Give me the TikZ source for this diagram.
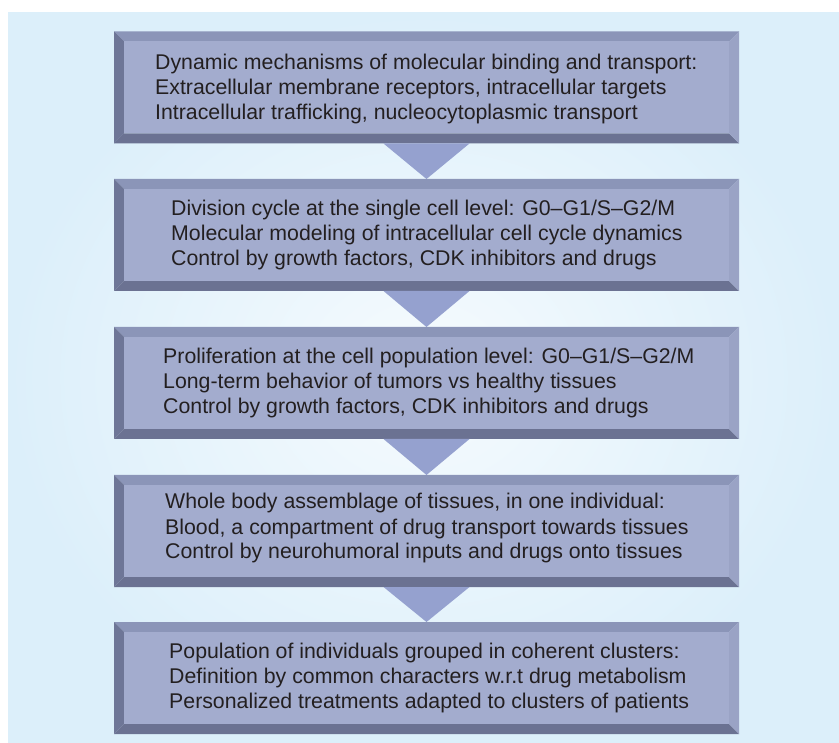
\documentclass[tikz,border=0pt]{standalone}
\usepackage{fontspec}
\setmainfont{Liberation Sans}
\usetikzlibrary{calc}

\definecolor{panelouter}{HTML}{DCEFFA}
\definecolor{panelinner}{HTML}{F6FBFE}
\definecolor{stageface}{HTML}{A3ACCE}
\definecolor{beveltop}{HTML}{8B95B8}
\definecolor{bevelleft}{HTML}{6E7697}
\definecolor{bevelbottom}{HTML}{6B7292}
\definecolor{bevelright}{HTML}{9AA3C5}
\definecolor{pointerblue}{HTML}{95A1CF}
\definecolor{inkgray}{HTML}{231F20}

% three left-aligned lines whose baseline is the first line's baseline
\newcommand\threelines[3]{\vtop{\hbox{#1}\hbox{#2}\hbox{#3}}}

% raised frame around a stage node: four mitred bevel strips and a flat face
\newcommand\bevelframe[1]{%
  \fill[beveltop] (#1.north west) -- (#1.north east) -- ($(#1.north east)+(-10,10)$) -- ($(#1.north west)+(10,10)$) -- cycle;
  \fill[bevelleft] (#1.north west) -- ($(#1.north west)+(10,10)$) -- ($(#1.south west)+(10,-10)$) -- (#1.south west) -- cycle;
  \fill[bevelbottom] (#1.south west) -- ($(#1.south west)+(10,-10)$) -- ($(#1.south east)+(-10,-10)$) -- (#1.south east) -- cycle;
  \fill[bevelright] (#1.north east) -- (#1.south east) -- ($(#1.south east)+(-10,-10)$) -- ($(#1.north east)+(-10,10)$) -- cycle;
  \fill[stageface] ($(#1.north west)+(10,10)$) rectangle ($(#1.south east)+(-10,-10)$);
}

\begin{document}
\begin{tikzpicture}[x=1pt,y=-1pt,
  stage/.style={rectangle, minimum width=625pt, minimum height=112pt, inner sep=0pt, outer sep=0pt},
  stagetext/.style={anchor=base west, inner sep=0pt, text=inkgray, font=\fontsize{21.3}{25}\selectfont},
  pointer/.style={fill=pointerblue}]
\useasboundingbox (0,0) rectangle (839,743);
\shade[inner color=panelinner, outer color=panelouter] (8,13) rectangle (839,742);

% the five stages, top to bottom
\node[stage] (b1) at (426.5,87.5) {};
\node[stage] (b2) at (426.5,235) {};
\node[stage] (b3) at (426.5,383) {};
\node[stage] (b4) at (426.5,531) {};
\node[stage] (b5) at (426.5,678) {};

\bevelframe{b1}
\bevelframe{b2}
\bevelframe{b3}
\bevelframe{b4}
\bevelframe{b5}

% downward pointers between consecutive stages
\fill[pointer] ($(b1.south)+(-43,0)$) -- ($(b1.south)+(43,0)$) -- (b2.north) -- cycle;
\fill[pointer] ($(b2.south)+(-43,0)$) -- ($(b2.south)+(43,0)$) -- (b3.north) -- cycle;
\fill[pointer] ($(b3.south)+(-43,0)$) -- ($(b3.south)+(43,0)$) -- (b4.north) -- cycle;
\fill[pointer] ($(b4.south)+(-43,0)$) -- ($(b4.south)+(43,0)$) -- (b5.north) -- cycle;

\node[stagetext] (t1) at (155,70) {\threelines
  {Dynamic mechanisms of molecular binding and transport:}
  {Extracellular membrane receptors, intracellular targets}
  {Intracellular trafficking, nucleocytoplasmic transport}};
\node[stagetext] (t2) at (171,216) {\threelines
  {Division cycle at the single cell level: G0–G1/S–G2/M}
  {Molecular modeling of intracellular cell cycle dynamics}
  {Control by growth factors, CDK inhibitors and drugs}};
\node[stagetext] (t3) at (163,364) {\threelines
  {Proliferation at the cell population level: G0–G1/S–G2/M}
  {Long-term behavior of tumors vs healthy tissues}
  {Control by growth factors, CDK inhibitors and drugs}};
\node[stagetext] (t4) at (165,509) {\threelines
  {Whole body assemblage of tissues, in one individual:}
  {Blood, a compartment of drug transport towards tissues}
  {Control by neurohumoral inputs and drugs onto tissues}};
\node[stagetext] (t5) at (169,658) {\threelines
  {Population of individuals grouped in coherent clusters:}
  {Definition by common characters w.r.t drug metabolism}
  {Personalized treatments adapted to clusters of patients}};
\end{tikzpicture}
\end{document}
